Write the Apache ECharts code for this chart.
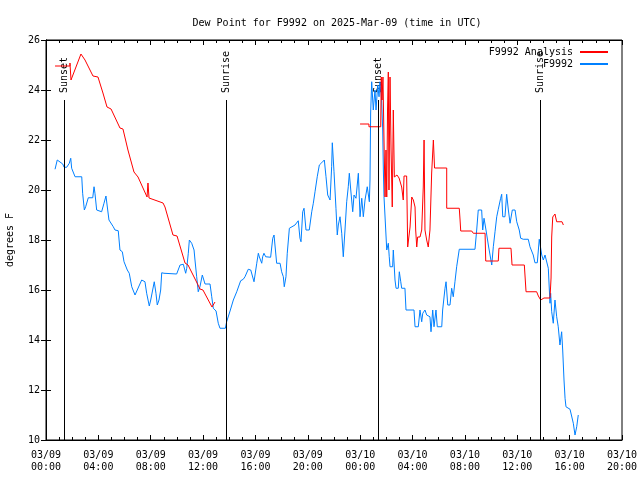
<!DOCTYPE html>
<html>
<head>
<meta charset="utf-8">
<script src="https://cdn.jsdelivr.net/npm/echarts@6/dist/echarts.min.js"></script>
<style>html,body{margin:0;padding:0;background:#fff}#c{width:640px;height:480px}</style>
</head>
<body>
<div id="c"></div>
<script>
// Hours since 2025-03-09 00:00 UTC
var xTickLabels = ['03/09\n00:00','03/09\n04:00','03/09\n08:00','03/09\n12:00','03/09\n16:00','03/09\n20:00','03/10\n00:00','03/10\n04:00','03/10\n08:00','03/10\n12:00','03/10\n16:00','03/10\n20:00'];
var yTicks = [10,12,14,16,18,20,22,24,26];

var analysisHours = [0.69,1.83,1.83,1.91,2.67,2.98,3.59,3.97,4.35,4.66,4.97,5.65,5.88,6.26,6.72,7.03,7.72,7.79,7.87,8.94,9.09,9.70,10.01,10.62,10.85,11.54,11.76,11.99,12.68,12.76,12.91,
  18.0,
  23.99,24.67,24.67,25.57,25.61,25.67,25.74,25.82,25.90,25.97,26.03,26.09,26.15,26.20,26.28,26.36,26.45,26.53,26.61,26.66,26.81,26.97,27.04,27.17,27.29,27.35,27.42,27.55,27.63,27.69,27.81,27.94,28.06,28.19,28.24,28.32,28.39,28.57,28.70,28.82,28.88,28.95,29.08,29.20,29.33,29.46,29.59,29.64,29.68,30.61,30.61,31.57,31.63,31.68,32.52,32.64,33.54,33.59,34.55,34.60,35.52,35.60,36.54,36.67,37.48,37.61,37.79,37.89,38.04,38.50,38.58,38.63,38.71,38.88,38.96,39.01,39.42,39.52];
var analysisValues = [24.96,24.96,25.08,24.40,25.44,25.20,24.56,24.52,23.88,23.32,23.24,22.48,22.44,21.60,20.72,20.52,19.72,20.28,19.68,19.48,19.32,18.20,18.16,17.08,17.00,16.28,16.04,16.00,15.32,15.28,15.52,
  null,
  22.64,22.64,22.53,22.53,24.52,23.60,24.52,22.00,19.72,21.60,19.72,23.20,24.72,20.00,24.52,21.60,19.32,23.20,20.52,20.56,20.60,20.48,20.48,20.12,19.60,20.56,20.60,20.56,17.72,18.00,18.52,19.72,19.60,19.32,18.40,17.72,18.12,18.12,18.40,20.12,22.00,18.40,18.00,17.72,18.40,20.68,22.00,21.40,20.88,20.88,19.27,19.27,18.80,18.36,18.36,18.27,18.27,17.16,17.16,17.67,17.67,17.00,17.00,15.93,15.93,15.76,15.60,15.60,15.68,15.68,16.48,18.12,18.92,19.04,18.96,18.73,18.73,18.60];

var obsHours = [0.69,0.86,0.94,1.28,1.38,1.58,1.78,1.89,1.96,2.22,2.73,2.80,2.93,3.03,3.23,3.57,3.67,3.74,3.87,4.25,4.43,4.58,4.68,4.81,5.14,5.27,5.52,5.65,5.83,5.96,6.21,6.36,6.55,6.80,6.93,7.31,7.56,7.69,7.89,8.00,8.27,8.40,8.50,8.63,8.76,8.84,9.01,9.98,10.24,10.49,10.67,10.75,10.87,10.95,11.13,11.31,11.38,11.51,11.63,11.76,11.94,12.15,12.53,12.66,12.78,12.99,13.16,13.29,13.70,13.80,14.06,14.31,14.57,14.69,14.87,15.07,15.20,15.45,15.64,15.89,16.10,16.22,16.30,16.48,16.55,16.65,16.78,17.16,17.32,17.42,17.49,17.62,17.88,18.00,18.13,18.20,18.33,18.43,18.59,19.02,19.27,19.40,19.48,19.61,19.71,19.86,20.11,20.30,20.42,20.55,20.72,20.88,21.06,21.26,21.39,21.52,21.70,21.82,21.87,22.00,22.15,22.25,22.33,22.46,22.59,22.71,22.84,22.97,23.09,23.17,23.28,23.43,23.53,23.68,23.86,23.99,24.12,24.24,24.37,24.54,24.70,24.75,24.80,24.88,25.00,25.13,25.21,25.34,25.44,25.51,25.64,25.72,25.77,25.82,25.97,26.03,26.15,26.22,26.28,26.48,26.53,26.66,26.74,26.91,26.99,27.10,27.17,27.42,27.50,28.11,28.19,28.44,28.57,28.70,28.78,28.95,29.08,29.33,29.41,29.54,29.64,29.79,29.89,30.23,30.30,30.48,30.56,30.69,30.86,30.99,31.11,31.24,31.37,31.57,32.77,32.90,33.02,33.28,33.36,33.46,33.61,33.79,34.05,34.17,34.30,34.43,34.55,34.73,34.81,34.89,35.06,35.19,35.32,35.45,35.62,35.83,35.96,36.15,36.26,36.46,36.84,36.97,37.22,37.35,37.53,37.68,37.87,37.99,38.12,38.25,38.37,38.45,38.50,38.55,38.63,38.75,38.88,39.01,39.13,39.26,39.39,39.47,39.57,39.65,39.72,40.03,40.18,40.28,40.41,40.54,40.66];
var obsValues = [20.83,21.20,21.23,21.04,20.91,20.91,21.07,21.27,20.87,20.53,20.53,19.87,19.20,19.33,19.69,19.69,20.13,19.87,19.20,19.13,19.47,19.76,19.73,18.80,18.53,18.40,18.37,17.60,17.53,17.13,16.80,16.67,16.13,15.80,15.87,16.40,16.33,15.87,15.36,15.60,16.33,15.87,15.40,15.60,16.00,16.69,16.67,16.64,17.00,17.03,16.67,16.87,17.47,18.00,17.87,17.60,17.20,16.53,15.93,16.13,16.60,16.24,16.24,15.73,15.27,15.16,14.67,14.47,14.47,14.73,15.16,15.60,15.93,15.97,16.37,16.43,16.53,16.83,16.80,16.33,17.07,17.47,17.32,17.07,17.33,17.47,17.33,17.31,18.07,18.20,17.80,17.07,17.07,16.73,16.53,16.13,16.53,17.47,18.47,18.60,18.77,18.07,17.93,19.13,19.27,18.40,18.40,19.13,19.47,19.93,20.53,21.00,21.09,21.20,20.53,19.80,19.60,20.93,21.89,20.73,19.27,18.20,18.60,18.93,18.27,17.33,18.40,19.53,20.13,20.67,20.00,19.13,19.80,19.67,20.67,18.93,19.67,18.93,19.60,20.13,19.53,20.40,23.08,24.33,23.20,24.00,23.20,24.20,23.73,24.33,23.60,22.40,20.80,19.73,18.20,17.60,17.87,17.33,16.93,16.93,17.60,16.40,16.07,16.07,16.73,16.33,16.07,16.07,15.20,15.20,14.53,14.53,15.20,14.73,15.07,15.20,15.00,14.93,14.33,15.20,14.53,15.20,14.53,14.53,15.20,16.07,16.33,15.40,15.40,16.07,15.73,16.33,16.93,17.63,17.63,18.40,19.20,19.20,18.40,18.87,18.40,17.80,17.00,17.73,18.33,18.93,19.23,19.67,19.83,18.93,18.93,19.83,19.20,18.67,19.20,19.20,18.73,18.40,18.07,18.03,18.03,17.73,17.40,17.09,17.09,18.03,17.40,17.20,17.40,17.40,16.87,16.00,15.47,15.87,15.13,14.67,15.60,14.93,14.53,13.80,14.33,13.60,12.40,11.67,11.33,11.23,11.16,10.67,10.20,10.53,11.00];

var eventNames = ['Sunset','Sunrise','Sunset','Sunrise'];
var eventHours = [1.38, 13.75, 25.36, 37.74];
var eventLineBottom = 10, eventLineTop = 23.6;

function zip(a, b) { return a.map(function (v, i) { return [v, b[i] === null ? '-' : b[i]]; }); }

var FONT = 'DejaVu Sans Mono';
var chart = echarts.init(document.getElementById('c'), null, {renderer: 'canvas'});
var tickStyle = {show: true, inside: true, length: 5, lineStyle: {color: '#000', width: 1}};
var option = {
  animation: false,
  backgroundColor: '#fff',
  textStyle: {fontFamily: FONT, fontSize: 10, color: '#000'},
  title: {
    text: 'Dew Point for F9992 on 2025-Mar-09 (time in UTC)',
    left: 332, top: 13, textAlign: 'center',
    textStyle: {fontFamily: FONT, fontSize: 10, fontWeight: 'normal', color: '#000'}
  },
  legend: {
    orient: 'vertical', right: 27, top: 42, align: 'right',
    itemWidth: 28, itemHeight: 2, itemGap: 2, icon: 'rect',
    textStyle: {fontFamily: FONT, fontSize: 10, color: '#000', padding: [0, 2, 0, 0]},
    data: ['F9992 Analysis', 'F9992']
  },
  grid: {left: 46, right: 18, top: 40, bottom: 40, show: true, borderColor: '#000', borderWidth: 1, containLabel: false, outerBoundsMode: 'none'},
  xAxis: [{
    type: 'value', min: 0, max: 44, interval: 4,
    axisLine: {show: true, lineStyle: {color: '#000'}},
    axisTick: tickStyle,
    minorTick: {show: true, splitNumber: 4, length: 3, lineStyle: {color: '#000'}},
    splitLine: {show: false},
    axisLabel: {margin: 9, lineHeight: 12, fontFamily: FONT, fontSize: 10, color: '#000',
      formatter: function (v) { return xTickLabels[Math.round(v / 4)]; }}
  }, {
    type: 'value', min: 0, max: 44, interval: 4, position: 'top',
    axisLine: {show: true, lineStyle: {color: '#000'}},
    axisTick: tickStyle,
    minorTick: {show: true, splitNumber: 4, length: 3, lineStyle: {color: '#000'}},
    splitLine: {show: false}, axisLabel: {show: false}
  }],
  yAxis: [{
    type: 'value', min: yTicks[0], max: yTicks[yTicks.length - 1], interval: 2,
    name: 'degrees F', nameLocation: 'middle', nameGap: 31,
    nameTextStyle: {fontFamily: FONT, fontSize: 10, color: '#000'},
    axisLine: {show: true, lineStyle: {color: '#000'}},
    axisTick: tickStyle, splitLine: {show: false},
    axisLabel: {margin: 6, fontFamily: FONT, fontSize: 10, color: '#000'}
  }, {
    type: 'value', min: yTicks[0], max: yTicks[yTicks.length - 1], interval: 2, position: 'right',
    axisLine: {show: true, lineStyle: {color: '#000'}},
    axisTick: tickStyle, splitLine: {show: false}, axisLabel: {show: false}
  }],
  series: [{
    name: 'F9992 Analysis', type: 'line', data: zip(analysisHours, analysisValues),
    showSymbol: false, symbol: 'none', connectNulls: false,
    lineStyle: {color: '#ff0000', width: 1}, itemStyle: {color: '#ff0000'}, z: 3
  }, {
    name: 'F9992', type: 'line', data: zip(obsHours, obsValues),
    showSymbol: false, symbol: 'none',
    lineStyle: {color: '#0080ff', width: 1}, itemStyle: {color: '#0080ff'}, z: 2,
    markLine: {
      silent: true, symbol: ['none', 'none'], animation: false,
      lineStyle: {color: '#000', width: 1, type: 'solid'}, label: {show: false},
      data: eventHours.map(function (t) { return [{coord: [t, eventLineBottom]}, {coord: [t, eventLineTop]}]; })
    }
  }]
};
chart.setOption(option);
var g = eventHours.map(function (t, i) {
  var p = chart.convertToPixel({xAxisIndex: 0, yAxisIndex: 0}, [t, eventLineTop]);
  return {type: 'text', x: p[0], y: p[1] - 7, rotation: Math.PI / 2,
    style: {text: eventNames[i], font: '10px "' + FONT + '"', fill: '#000', align: 'left', verticalAlign: 'middle'}};
});
chart.setOption({graphic: g});
</script>
</body>
</html>
